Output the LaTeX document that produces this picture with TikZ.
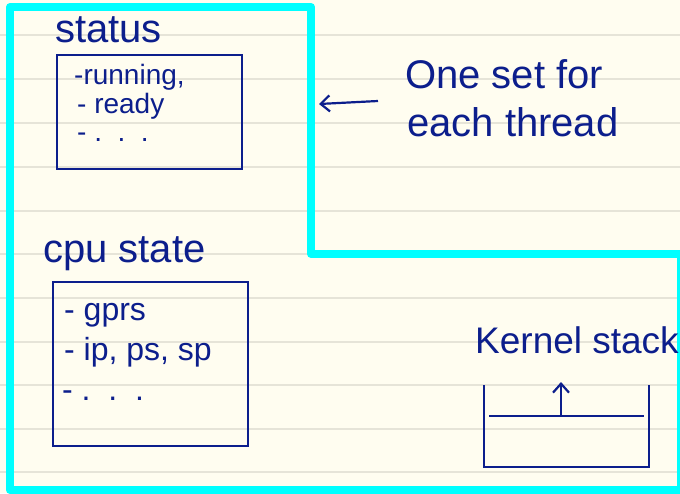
\documentclass[tikz,border=0pt]{standalone}
\usepackage{fontspec}
\setmainfont{Liberation Sans}
\usetikzlibrary{arrows.meta}
\definecolor{ink}{RGB}{12,30,140}
\definecolor{paper}{RGB}{255,253,240}
\definecolor{rule}{RGB}{230,228,216}
\definecolor{hilite}{RGB}{0,255,255}
\tikzset{
  hw/.style={text=ink, inner sep=0pt, anchor=base west},
  big/.style={hw, font=\fontsize{40}{40}\selectfont},
  mid/.style={hw, font=\fontsize{28}{28}\selectfont},
  inkline/.style={draw=ink, line width=2.2pt},
  boxed/.style={inkline, inner sep=0pt, minimum width=#1},
  ruleline/.style={draw=rule, line width=1.2pt},
  frame/.style={draw=hilite, line width=8pt, line join=round},
}
\begin{document}
\begin{tikzpicture}[x=1pt,y=-1pt]
\useasboundingbox (0,0) rectangle (680,493);
\fill[paper] (0,0) rectangle (680,493);
\foreach \yy in {35,79,123,167,211,254,298,342,385,429,472}
  \draw[ruleline] (0,\yy) -- (680,\yy);

% cyan outline
\draw[frame] (10,7) -- (311,7) -- (311,254) -- (681,254) -- (681,490) -- (10,490) -- cycle;

% status
\node[big] (statuslbl) at (55,42) {status};
\node[boxed=185pt, minimum height=114pt] (statusbox) at (149.5,112) {};
\node[mid] (s1) at (74,84) {-running,};
\node[mid] (s2) at (77,113) {- ready};
\node[mid] (s3) at (77,141) {- .\ \ .\ \ .};

% cpu state
\node[big] (cpulbl) at (43,262) {cpu state};
\node[boxed=195pt, minimum height=164pt] (cpubox) at (150.5,364) {};
\node[mid, font=\fontsize{32}{32}\selectfont] (c1) at (64,320) {- gprs};
\node[mid, font=\fontsize{32}{32}\selectfont] (c2) at (64,360) {- ip, ps, sp};
\node[mid, font=\fontsize{32}{32}\selectfont] (c3) at (62,400) {- .\ \ .\ \ .};

% note
\node[big] (note1) at (405,88) {One set for};
\node[big] (note2) at (407,136) {each thread};
\coordinate (arrfrom) at (378,101);
\coordinate (arrto) at (319,104);
\draw[inkline, -{Straight Barb[length=9pt,width=16pt]}] (arrfrom) -- (arrto);

% kernel stack
\node[hw, font=\fontsize{37}{37}\selectfont] (kslbl) at (475,353) {Kernel stack};
\draw[inkline] (484,385) -- (484,467) -- (649,467) -- (649,385);
\draw[inkline] (489,416) -- (644,416);
\coordinate (stacktop) at (561,416);
\coordinate (stackup) at (561,382);
\draw[inkline, -{Straight Barb[length=9pt,width=16pt]}] (stacktop) -- (stackup);
\end{tikzpicture}
\end{document}
